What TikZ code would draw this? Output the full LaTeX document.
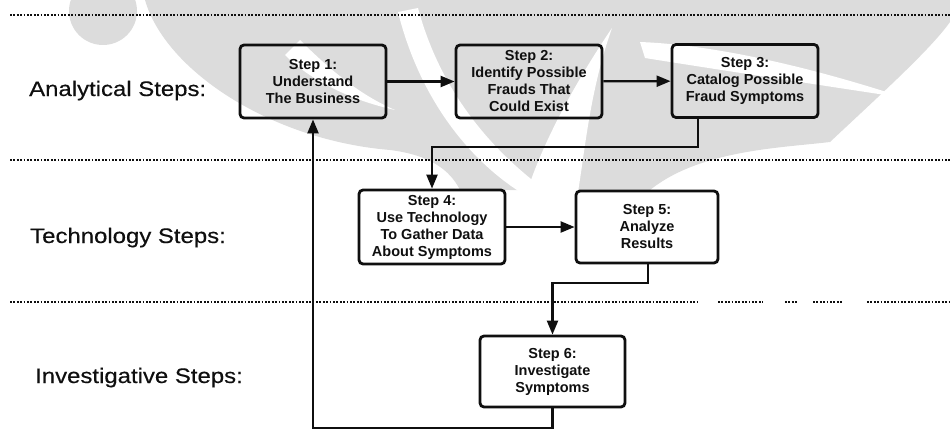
\documentclass[tikz,border=0pt]{standalone}
\usepackage{fontspec}
\setmainfont{Liberation Sans}
\newfontfamily\labfont[FakeStretch=1.14,FakeBold=0.4]{Liberation Sans}
\newfontfamily\boxfont{Liberation Sans}
\usetikzlibrary{arrows.meta}
\definecolor{wm}{RGB}{220,220,220}
\definecolor{ink}{RGB}{15,15,15}
\tikzset{
  stepbox/.style={draw=ink, line width=2.8pt, rounded corners=4pt, inner sep=0pt,
    minimum width=146pt, minimum height=73pt, align=center, text=ink,
    font=\boxfont\bfseries\fontsize{14.5}{17}\selectfont},
  conn/.style={draw=ink, line width=2.2pt, -{Triangle[length=14pt,width=11pt]}},
  sep/.style={draw=ink, line width=1.3pt, dash pattern=on 1.8pt off 1.6pt},
  lanelabel/.style={anchor=base west, inner sep=0pt, text=ink,
    font=\labfont\fontsize{21}{24}\selectfont},
}
\begin{document}
\begin{tikzpicture}[x=1pt,y=-1pt]
\useasboundingbox (0,0) rectangle (950,444);
% watermark
\fill[wm] (103,11) circle (34);
\fill[wm] (145,0) .. controls (165,70) and (270,140) .. (390,150)
  .. controls (430,155) and (450,170) .. (460,190) -- (650,190)
  .. controls (700,150) and (780,148) .. (830,142)
  .. controls (880,95) and (930,50) .. (950,22) -- (950,0) -- cycle;
\fill[white] (398,12) .. controls (420,100) and (470,160) .. (520,192) -- (548,192)
  .. controls (490,150) and (440,90) .. (418,8) -- cycle;
\fill[white] (527,192) .. controls (540,150) and (570,90) .. (612,28)
  .. controls (590,90) and (585,150) .. (578,192) -- cycle;
\fill[white] (640,42) .. controls (720,45) and (820,70) .. (905,98)
  .. controls (820,85) and (720,70) .. (645,58) -- cycle;
\fill[white] (300,40) .. controls (330,70) and (360,95) .. (395,110)
  .. controls (350,100) and (310,80) .. (285,55) -- cycle;
% separators
\draw[sep] (10,15) -- (950,15);
\draw[sep] (10,160) -- (950,160);
\draw[sep] (10,302) -- (697,302);
\draw[sep] (718,302) -- (763,302);
\draw[sep] (785,302) -- (797,302);
\draw[sep] (813,302) -- (842,302);
\draw[sep] (867,302) -- (950,302);
% lane labels
\node[lanelabel] (l1) at (29,96) {Analytical Steps:};
\node[lanelabel] (l2) at (30,243) {Technology Steps:};
\node[lanelabel] (l3) at (35,383) {Investigative Steps:};
% steps
\node[stepbox] (b1) at (313,81.5) {Step 1:\\Understand\\The Business};
\node[stepbox] (b2) at (529,81.5) {Step 2:\\Identify Possible\\Frauds That\\Could Exist};
\node[stepbox] (b3) at (745,81) {Step 3:\\Catalog Possible\\Fraud Symptoms};
\node[stepbox, minimum height=74pt] (b4) at (432,227) {Step 4:\\Use Technology\\To Gather Data\\About Symptoms};
\node[stepbox, minimum width=142pt, minimum height=72pt] (b5) at (647,227) {Step 5:\\Analyze\\Results};
\node[stepbox, minimum width=145pt, minimum height=71pt] (b6) at (552.5,371.5) {Step 6:\\Investigate\\Symptoms};
% junctions
\coordinate (j1) at (698,147);
\coordinate (j2) at (648,283);
\coordinate (j3) at (313,428);
% connectors
\draw[conn] (b1) -- (b2);
\draw[conn] (b2) -- (b3);
\draw[conn] (b3.south -| j1) -- (j1) -| (b4.north);
\draw[conn] (b4) -- (b5);
\draw[conn] (b5.south -| j2) -- (j2) -| (b6.north);
\draw[conn] (b6.south) |- (j3) -- (b1.south);
\end{tikzpicture}
\end{document}
